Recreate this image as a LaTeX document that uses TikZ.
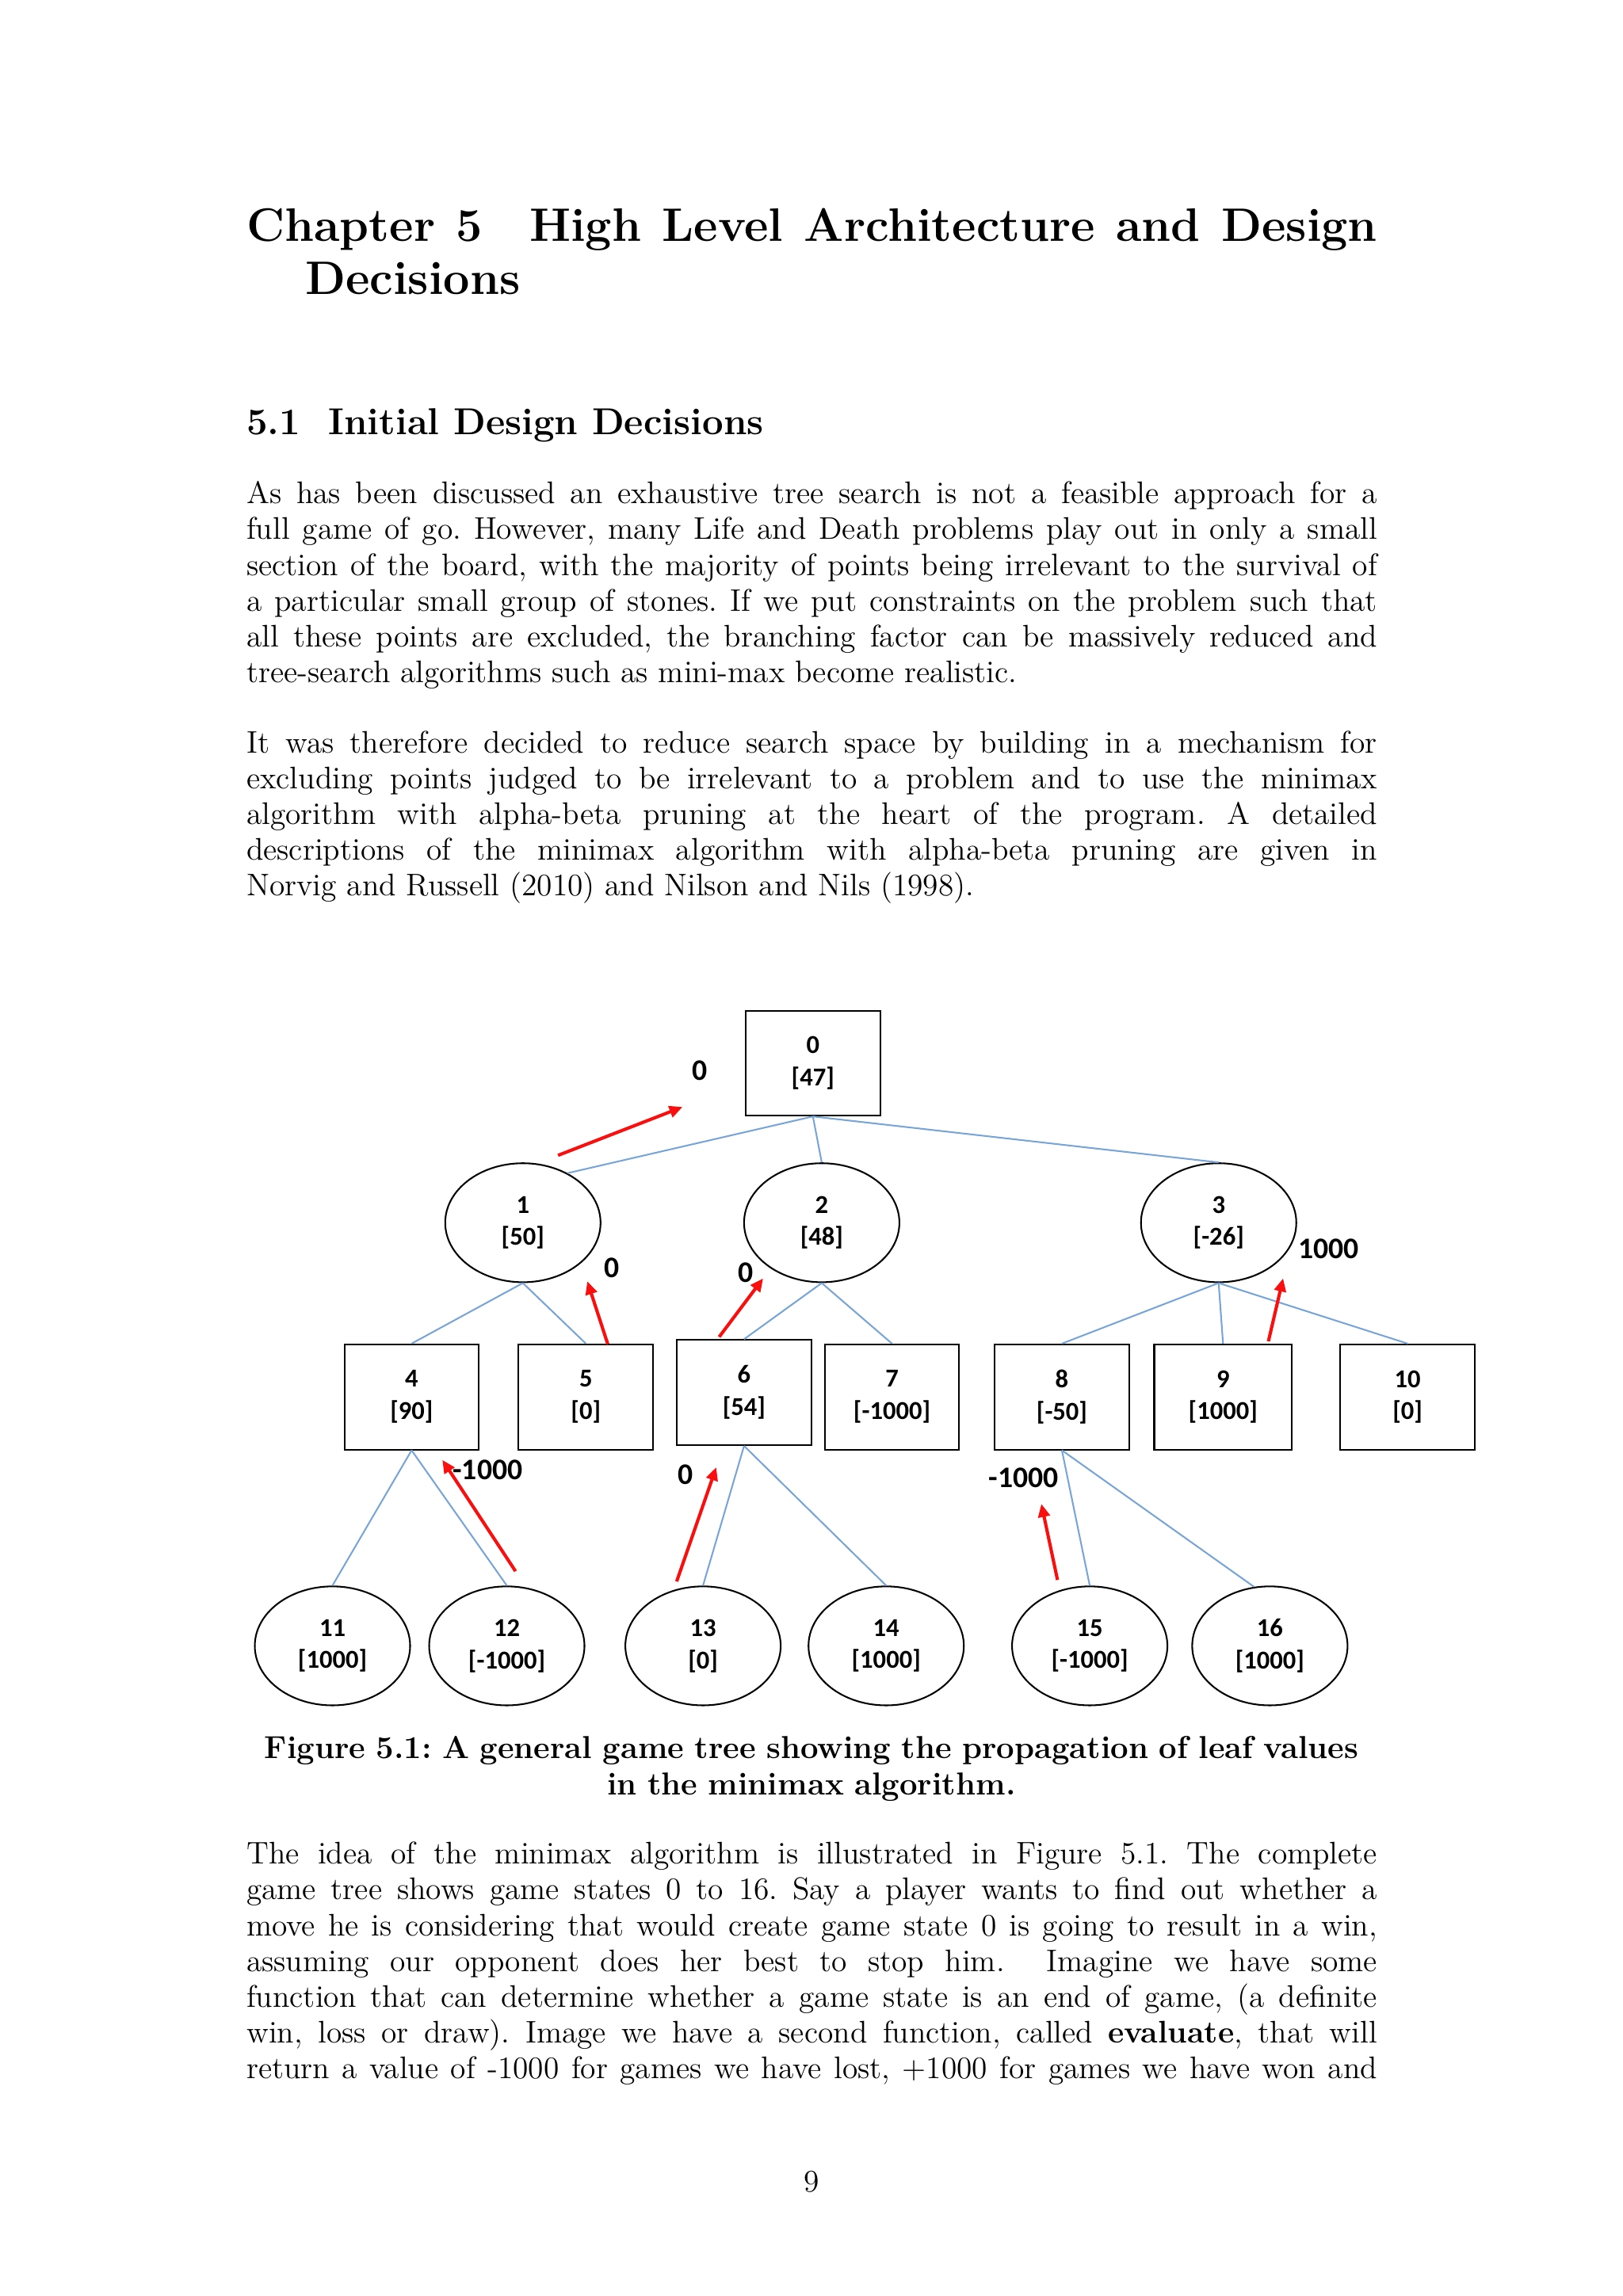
\documentclass[tikz,border=0pt]{standalone}
\usepackage{fontspec}
\newfontfamily\calibri{Carlito}
\usepackage{xcolor}
\usetikzlibrary{positioning,arrows.meta,calc,shapes.geometric}
\definecolor{treeblue}{RGB}{120,165,215}
\definecolor{backred}{RGB}{250,15,15}
\newcommand{\gstate}[2]{#1\\{[#2]}}
\newcommand{\fullline}[1]{\hbox to\hsize{\spaceskip=0pt\xspaceskip=0pt #1}}

\begin{document}
\begin{tikzpicture}[>=Latex,
  body/.style={anchor=base west,inner sep=0pt,text width=146.32mm,align=justify,
    font=\fontsize{11.5}{13.16}\selectfont\frenchspacing},
  maxbox/.style={draw,line width=0.6pt,rectangle,minimum width=17.4mm,minimum height=13.6mm,
    inner sep=0pt,align=center,font=\calibri\bfseries\fontsize{9.5}{11.9}\selectfont},
  minball/.style={maxbox,ellipse,minimum width=20.1mm,minimum height=15.4mm},
  edge/.style={treeblue,line width=0.6pt},
  backup/.style={backred,line width=1.2pt,-{Triangle[length=1.7mm,width=1.5mm]}},
  val/.style={inner sep=0pt,font=\calibri\bfseries\fontsize{11}{13}\selectfont}]
  \useasboundingbox (0,0) rectangle (21,-29.718);

  \node[body,font=\bfseries\fontsize{17.28}{19.4}\selectfont] (chap) at (3.184,-3.127)
    {\fullline{Chapter 5\quad High Level Architecture and Design}
    \hspace*{7.6mm}Decisions};
  \node[anchor=base west,inner sep=0pt,font=\bfseries\fontsize{13.8}{17}\selectfont] (sec) at (3.184,-5.629)
    {5.1\hspace{3.6mm}Initial Design Decisions};
  \node[body] (para1) at (3.184,-6.520) {%
    \fullline{As has been discussed an exhaustive tree search is not a feasible approach for a}
    \fullline{full game of go. However, many Life and Death problems play out in only a small}
    \fullline{section of the board, with the majority of points being irrelevant to the survival of}
    \fullline{a particular small group of stones. If we put constraints on the problem such that}
    \fullline{all these points are excluded, the branching factor can be massively reduced and}
    tree-search algorithms such as mini-max become realistic.};
  \node[body] (para2) at (3.184,-9.742) {%
    \fullline{It was therefore decided to reduce search space by building in a mechanism for}
    \fullline{excluding points judged to be irrelevant to a problem and to use the minimax}
    \fullline{algorithm with alpha-beta pruning at the heart of the program. A detailed}
    \fullline{descriptions of the minimax algorithm with alpha-beta pruning are given in}
    Norvig and Russell (2010) and Nilson and Nils (1998).};

  % game tree
  \node[maxbox] (n0) at (10.519,-13.760) {\gstate{0}{47}};
  \node[minball] (n1) at (6.766,-15.826) {\gstate{1}{50}};
  \node[minball] (n2) at (10.633,-15.826) {\gstate{2}{48}};
  \node[minball] (n3) at (15.769,-15.826) {\gstate{3}{-26}};
  \node[maxbox] (n4) at (5.326,-18.081) {\gstate{4}{90}};
  \node[maxbox] (n5) at (7.581,-18.081) {\gstate{5}{0}};
  \node[maxbox] (n6) at (9.628,-18.024) {\gstate{6}{54}};
  \node[maxbox] (n7) at (11.542,-18.081) {\gstate{7}{-1000}};
  \node[maxbox] (n8) at (13.741,-18.081) {\gstate{8}{-50}};
  \node[maxbox,minimum width=17.8mm] (n9) at (15.826,-18.081) {\gstate{9}{1000}};
  \node[maxbox] (n10) at (18.214,-18.081) {\gstate{10}{0}};
  \node[minball] (n11) at (4.302,-21.303) {\gstate{11}{1000}};
  \node[minball] (n12) at (6.558,-21.303) {\gstate{12}{-1000}};
  \node[minball] (n13) at (9.097,-21.303) {\gstate{13}{0}};
  \node[minball] (n14) at (11.467,-21.303) {\gstate{14}{1000}};
  \node[minball] (n15) at (14.101,-21.303) {\gstate{15}{-1000}};
  \node[minball] (n16) at (16.432,-21.303) {\gstate{16}{1000}};

  \draw[edge] (n0.south) -- (n1.48);
  \draw[edge] (n0.south) -- (n2.north);
  \draw[edge] (n0.south) -- (n3.north);
  \draw[edge] (n1.south) -- (n4.north);
  \draw[edge] (n1.south) -- (n5.north);
  \draw[edge] (n2.south) -- (n6.north);
  \draw[edge] (n2.south) -- (n7.north);
  \draw[edge] (n3.south) -- (n8.north);
  \draw[edge] (n3.south) -- (n9.north);
  \draw[edge] (n3.south) -- (n10.north);
  \draw[edge] (n4.south) -- (n11.north);
  \draw[edge] (n4.south) -- (n12.north);
  \draw[edge] (n6.south) -- (n13.north);
  \draw[edge] (n6.south) -- (n14.north);
  \draw[edge] (n8.south) -- (n15.north);
  \draw[edge] (n8.south) -- (n16.105);

  % backed-up values
  \coordinate (r1a) at (7.221,-14.954);  \coordinate (r1b) at (8.832,-14.328);
  \coordinate (r2a) at (7.865,-17.399);  \coordinate (r2b) at (7.600,-16.584);
  \coordinate (r3a) at (9.306,-17.304);  \coordinate (r3b) at (9.875,-16.546);
  \coordinate (r4a) at (16.413,-17.361); \coordinate (r4b) at (16.603,-16.546);
  \coordinate (r5a) at (6.671,-20.337);  \coordinate (r5b) at (5.724,-18.896);
  \coordinate (r6a) at (8.756,-20.469);  \coordinate (r6b) at (9.268,-18.991);
  \coordinate (r7a) at (13.684,-20.450); \coordinate (r7b) at (13.475,-19.465);
  \draw[backup] (r1a) -- (r1b);
  \draw[backup] (r2a) -- (r2b);
  \draw[backup] (r3a) -- (r3b);
  \draw[backup] (r4a) -- (r4b);
  \draw[backup] (r5a) -- (r5b);
  \draw[backup] (r6a) -- (r6b);
  \draw[backup] (r7a) -- (r7b);
  \node[val] (v1) at (9.059,-13.855) {0};
  \node[val] (v2) at (7.922,-16.413) {0};
  \node[val] (v3) at (9.647,-16.470) {0};
  \node[val] (v4) at (17.190,-16.167) {1000};
  \node[val] (v5) at (6.311,-19.029) {-1000};
  \node[val] (v6) at (8.870,-19.086) {0};
  \node[val] (v7) at (13.248,-19.124) {-1000};

  \node[body,align=center,anchor=base,font=\bfseries\fontsize{11.7}{13.4}\selectfont\frenchspacing] (cap) at (10.5,-22.762)
    {Figure 5.1: A general game tree showing the propagation of leaf values\\in the minimax algorithm.};
  \node[body] (para3) at (3.184,-24.127) {%
    \fullline{The idea of the minimax algorithm is illustrated in Figure 5.1. The complete}
    \fullline{game tree shows game states 0 to 16. Say a player wants to find out whether a}
    \fullline{move he is considering that would create game state 0 is going to result in a win,}
    \fullline{assuming our opponent does her best to stop him.\ \ Imagine we have some}
    \fullline{function that can determine whether a game state is an end of game, (a definite}
    \fullline{win, loss or draw). Image we have a second function, called \textbf{evaluate}, that will}
    \fullline{return a value of -1000 for games we have lost, +1000 for games we have won and}};
  \node[anchor=base,inner sep=0pt,font=\fontsize{11.5}{13}\selectfont] (pg) at (10.5,-28.373) {9};
\end{tikzpicture}
\end{document}
